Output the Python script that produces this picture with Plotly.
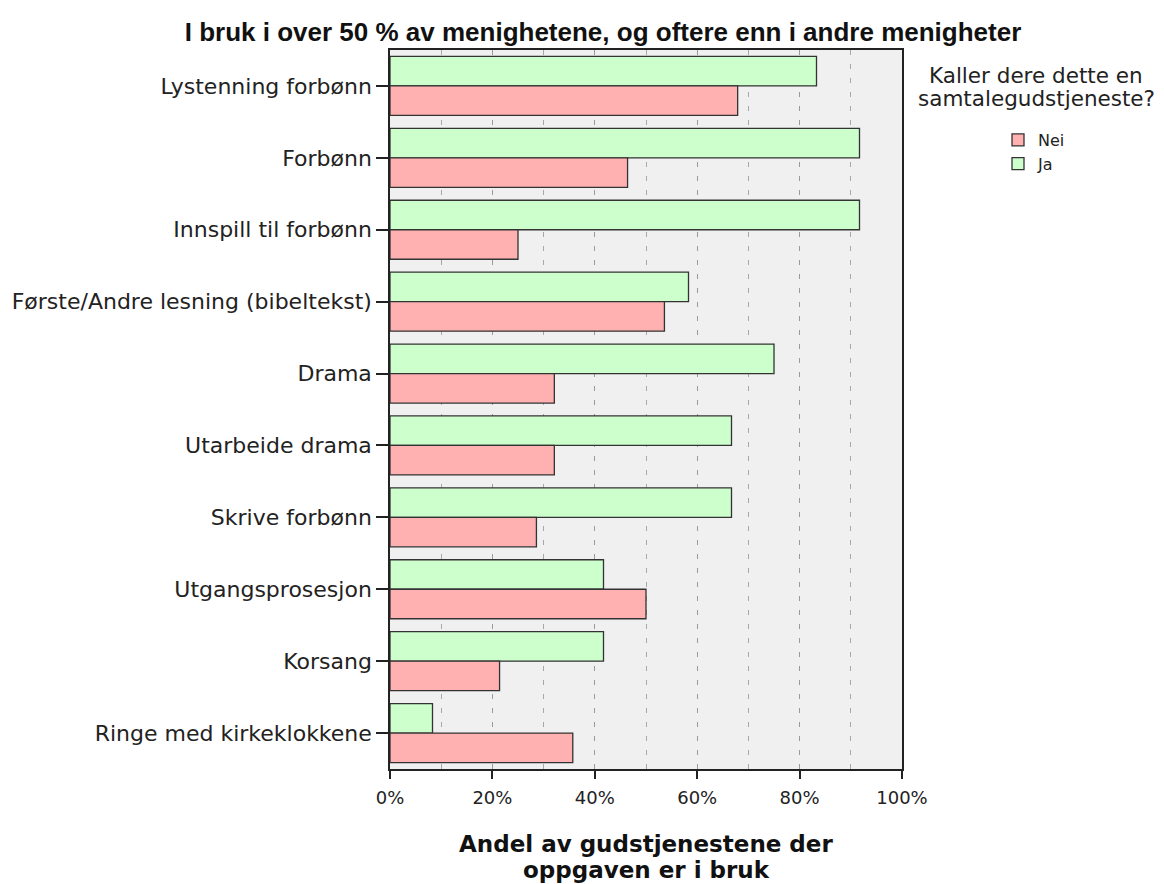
import plotly.graph_objects as go

categories = [
    "Lystenning forbønn",
    "Forbønn",
    "Innspill til forbønn",
    "Første/Andre lesning (bibeltekst)",
    "Drama",
    "Utarbeide drama",
    "Skrive forbønn",
    "Utgangsprosesjon",
    "Korsang",
    "Ringe med kirkeklokkene",
]
ja_values = [83.3, 91.7, 91.7, 58.3, 75.0, 66.7, 66.7, 41.7, 41.7, 8.3]
nei_values = [67.9, 46.4, 25.0, 53.6, 32.1, 32.1, 28.6, 50.0, 21.4, 35.7]
x_ticks = [0, 20, 40, 60, 80, 100]
x_tick_labels = ["0%", "20%", "40%", "60%", "80%", "100%"]

FONT = "DejaVu Sans"

# layout geometry (figure pixel coordinates)
L, T, PW, PH = 382, 42, 512, 719
W, H = 1164, 884


def py(fig_y):
    return 1 - (fig_y - T) / PH


def px(fig_x):
    return (fig_x - L) / PW


fig = go.Figure()
fig.add_trace(go.Bar(
    y=categories, x=ja_values, name="Ja", orientation="h",
    marker=dict(color="#ccffcc", line=dict(color="#333333", width=1.3)),
))
fig.add_trace(go.Bar(
    y=categories, x=nei_values, name="Nei", orientation="h",
    marker=dict(color="#ffb0b0", line=dict(color="#333333", width=1.3)),
))

fig.update_layout(
    width=W, height=H,
    margin=dict(l=L, r=W - L - PW, t=T, b=H - T - PH, autoexpand=False),
    paper_bgcolor="white",
    plot_bgcolor="#f0f0f0",
    barmode="group",
    bargap=0.18,
    bargroupgap=0,
    font=dict(family=FONT, color="#222222"),
    title=dict(
        text="<b>I bruk i over 50 % av menighetene, og oftere enn i andre menigheter</b>",
        font=dict(family="Liberation Sans", size=26, color="#111111"),
        xref="container", x=(603 - 8) / W, xanchor="center",
        yref="container", y=1 - (32 - 8) / H, yanchor="middle",
    ),
    showlegend=True,
    legend=dict(
        traceorder="reversed",
        x=px(990), xanchor="left",
        y=py(115), yanchor="top",
        font=dict(family=FONT, size=16, color="#222222"),
        bgcolor="rgba(0,0,0,0)",
        itemwidth=30,
        tracegroupgap=0,
    ),
)

fig.update_xaxes(
    range=[0, 100],
    automargin=False,
    tickvals=x_ticks, ticktext=x_tick_labels,
    ticks="outside", ticklen=8, tickwidth=1.5, tickcolor="#222222",
    tickfont=dict(family=FONT, size=18, color="#222222"),
    ticklabelstandoff=4,
    showline=True, linecolor="#222222", linewidth=1.5, mirror=True,
    showgrid=True, gridcolor="#9a9a9a", griddash="5px,9px", gridwidth=1.2,
    minor=dict(dtick=10, tick0=0, showgrid=True, gridcolor="#a8a8a8",
               griddash="5px,9px", gridwidth=1.2),
    zeroline=False,
    fixedrange=True,
)
fig.update_yaxes(
    categoryorder="array", categoryarray=categories,
    autorange="reversed",
    automargin=False,
    ticks="outside", ticklen=12, tickwidth=1.5, tickcolor="#222222",
    tickfont=dict(family=FONT, size=22, color="#222222"),
    showline=True, linecolor="#222222", linewidth=1.5, mirror=True,
    showgrid=False,
)

# legend title (two lines)
for txt, yc in [("Kaller dere dette en", 67), ("samtalegudstjeneste?", 90)]:
    fig.add_annotation(
        text=txt, xref="paper", yref="paper",
        x=px(1028), y=py(yc), xanchor="center", yanchor="middle",
        showarrow=False,
        font=dict(family=FONT, size=21.5, color="#222222"),
    )

# x axis title (two lines)
for txt, yc in [("<b>Andel av gudstjenestene der</b>", 836), ("<b>oppgaven er i bruk</b>", 862)]:
    fig.add_annotation(
        text=txt, xref="paper", yref="paper",
        x=0.5, y=py(yc), xanchor="center", yanchor="middle",
        showarrow=False,
        font=dict(family=FONT, size=23, color="#111111"),
    )

fig.write_html("out.html")
